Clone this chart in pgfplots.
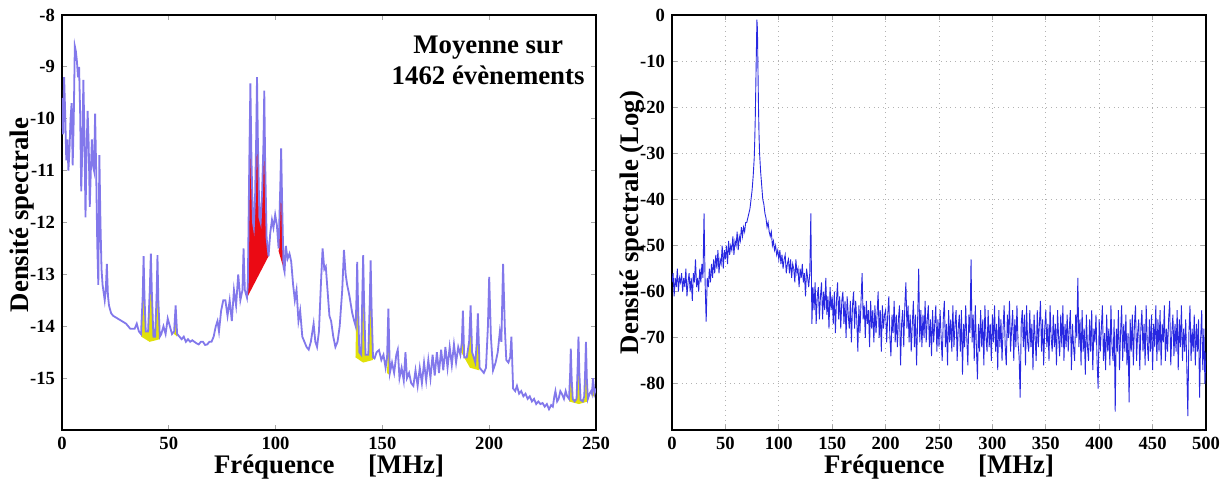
\documentclass[border=0pt]{standalone}
\usepackage{fontspec}
\setmainfont{Liberation Serif}
\usepackage{pgfplots}
\pgfplotsset{compat=1.18}
\definecolor{lav}{RGB}{130,120,235}
\definecolor{specblue}{RGB}{40,40,225}
\definecolor{spikered}{RGB}{235,10,20}
\definecolor{spikeyel}{RGB}{225,225,10}

\pgfplotsset{spec/.style={
    scale only axis, width=267pt, height=207.5pt,
    axis line style={line width=1pt},
    tick align=inside, major tick length=2.5pt,
    tick style={gray!70, line width=0.5pt},
    /pgf/number format/assume math mode=true,
    ticklabel style={font=\fontsize{9.3}{10}\selectfont\bfseries},
    label style={font=\fontsize{13.4}{15}\selectfont\bfseries},
    xlabel={Fréquence\quad\ [MHz]},
    xlabel style={at={(axis description cs:0.5,-0.089)}, anchor=center},
    ylabel style={at={(axis description cs:-0.075,0.5)}, anchor=center},
}}

\begin{document}
\begin{tikzpicture}
\useasboundingbox (-31pt,-26.5pt) rectangle (583pt,215pt);

% moyenne sur les evenements
\begin{axis}[spec,
    xmin=0, xmax=250, ymin=-16, ymax=-8,
    xtick={0,50,...,250}, ytick={-15,...,-8},
    ylabel={Densité spectrale},
    ylabel style={at={(axis description cs:-0.075,0.518)}},
]
% zones jaunes
\addplot[fill=spikeyel, draw=none] coordinates {(37.1,-14.2)(37.8,-13.4)(38.2,-12.9)(38.6,-13.4)(39.2,-14.1)(40.3,-14.1)(41.1,-13.3)(41.6,-12.85)(42.1,-13.4)(42.8,-14.2)(43.6,-14.2)(44.3,-13.4)(44.7,-12.9)(45.1,-13.5)(45.8,-14.25)(41,-14.3)} -- cycle;
\addplot[fill=spikeyel, draw=none] coordinates {(52.5,-14.15)(53.2,-13.75)(53.9,-14.2)} -- cycle;
\addplot[fill=spikeyel, draw=none] coordinates {(137.4,-14.6)(137.9,-13.4)(138.2,-13.0)(138.6,-13.6)(139.2,-14.5)(140.1,-14.55)(140.6,-13.4)(141,-12.9)(141.4,-13.5)(142.1,-14.55)(143.4,-14.55)(144.1,-13.5)(144.5,-13.0)(144.9,-13.6)(145.6,-14.65)(141,-14.7)} -- cycle;
\addplot[fill=spikeyel, draw=none] coordinates {(152.2,-14.9)(152.8,-13.9)(153.5,-14.95)} -- cycle;
\addplot[fill=spikeyel, draw=none] coordinates {(186.9,-14.5)(187.7,-13.9)(188.4,-14.6)(189.6,-14.6)(190.6,-14.3)(191.3,-13.8)(192,-14.5)(193.5,-14.7)(194.2,-14.3)(194.7,-13.95)(195.4,-14.85)(191,-14.8)} -- cycle;
\addplot[fill=spikeyel, draw=none] coordinates {(237.4,-15.45)(237.9,-14.9)(238.2,-14.6)(238.6,-15.0)(239.1,-15.4)(240.9,-15.4)(241.4,-14.8)(241.8,-14.4)(242.2,-14.9)(242.8,-15.42)(244.5,-15.4)(244.9,-14.9)(245.3,-14.5)(245.7,-15.0)(246.2,-15.45)(242,-15.5)} -- cycle;
\addplot[fill=spikeyel, draw=none] coordinates {(248.1,-15.35)(248.6,-15.0)(249.3,-15.35)} -- cycle;
% zones rouges
\addplot[fill=spikered, draw=none] coordinates {(86.6,-13.45)(87.0,-13.2)(87.7,-10.8)(88.2,-9.4)(88.7,-10.8)(89.4,-12.0)(89.8,-12.1)(90.4,-11.5)(90.9,-10.4)(91.3,-9.3)(91.7,-10.4)(92.4,-11.9)(93.0,-12.0)(93.7,-11.4)(94.3,-10.5)(94.7,-9.55)(95.1,-10.8)(95.8,-12.3)(96.7,-12.65)} -- cycle;
\addplot[fill=spikered, draw=none] coordinates {(101.4,-12.55)(101.6,-12.5)(102.2,-11.3)(102.6,-10.65)(103.0,-11.5)(103.7,-12.85)(104.2,-12.95)} -- cycle;
% spectre moyen
\addplot[lav, line width=0.9pt] coordinates {
(0,-9.6)(0.5,-10.3)(1,-9.2)(1.5,-9.9)(2,-10.8)(2.5,-10.4)(3,-11.0)(3.5,-10.6)(4,-10.0)(4.5,-9.7)
(5,-10.9)(5.5,-10.0)(6,-8.6)(6.5,-8.7)(7,-8.9)(7.5,-9.2)(8,-9.0)(8.5,-9.9)(9,-11.4)(9.5,-10.6)
(10,-9.25)(10.5,-10.3)(11,-11.9)(11.5,-10.6)(12,-9.85)(12.5,-10.5)(13,-11.7)(13.5,-11.0)(14,-10.4)(14.5,-10.9)
(15,-11.0)(15.5,-9.9)(16,-11.0)(16.5,-12.4)(17,-13.2)(17.5,-10.7)(18,-12.0)(18.5,-12.9)(19,-13.2)(20,-13.5)
(20.5,-13.3)(21,-12.8)(21.5,-13.4)(22,-13.6)(23,-13.75)(24,-13.8)(26,-13.85)(28,-13.9)(30,-13.95)(32,-14.05)
(34,-14.05)(35,-13.95)(36,-14.1)(37,-14.15)(37.8,-13.4)(38.2,-12.65)(38.6,-13.4)(39.2,-14.1)(40.3,-14.1)(41.1,-13.3)
(41.6,-12.6)(42.1,-13.4)(42.8,-14.2)(43.6,-14.2)(44.3,-13.4)(44.7,-12.63)(45.1,-13.5)(45.8,-14.2)(46.5,-14.15)(47.5,-14.0)
(48.5,-14.15)(49.5,-13.85)(50.5,-14.0)(51.5,-14.15)(52.5,-14.1)(53.2,-13.6)(53.9,-14.15)(55,-14.2)(56,-14.25)(57,-14.2)
(58,-14.3)(59,-14.25)(60,-14.3)(61,-14.27)(62,-14.3)(63,-14.33)(64,-14.35)(65,-14.3)(66,-14.3)(67,-14.36)
(68,-14.35)(69,-14.3)(70,-14.3)(71,-14.2)(72,-14.0)(72.8,-13.9)(73.5,-14.1)(74.5,-13.7)(75.5,-13.5)(76.5,-13.5)
(77.5,-13.8)(78.5,-13.5)(79.5,-13.9)(80.5,-13.3)(81.5,-13.6)(82.5,-13.0)(83.5,-13.5)(84.5,-13.3)(85,-12.5)(85.6,-13.3)
(86.6,-13.45)(87.0,-13.2)(87.7,-10.8)(88.2,-9.32)(88.7,-10.8)(89.4,-12.0)(89.8,-12.1)(90.4,-11.5)(90.9,-10.4)(91.3,-9.2)
(91.7,-10.4)(92.4,-11.9)(93.0,-12.0)(93.7,-11.4)(94.3,-10.5)(94.7,-9.46)(95.1,-10.8)(95.8,-12.3)(96.7,-12.65)(97.5,-12.2)
(98.3,-11.95)(99,-12.1)(99.8,-11.85)(100.6,-12.05)(101.4,-12.5)(102.2,-11.3)(102.6,-10.57)(103.0,-11.5)(103.7,-12.85)(104.2,-12.95)
(104.8,-12.45)(105.6,-12.7)(106.5,-12.6)(107.3,-12.75)(108.2,-13.2)(109,-13.5)(109.8,-13.3)(110.7,-13.9)(111.5,-13.7)(112.5,-14.2)
(113.5,-14.3)(114.5,-14.4)(115.5,-14.45)(116.5,-14.3)(117.8,-13.95)(118.6,-14.3)(119.4,-14.4)(120.3,-14.1)(121.2,-13.2)(122,-12.5)
(122.8,-12.9)(123.5,-12.85)(124.3,-13.3)(125.2,-13.8)(126,-13.9)(127,-14.2)(128,-14.4)(129,-14.3)(130,-14.0)(131.2,-13.3)
(132,-12.53)(132.8,-13.0)(133.5,-13.2)(134.5,-13.4)(135.9,-13.75)(136.8,-13.9)(137.5,-14.0)(137.9,-13.4)(138.2,-12.76)(138.6,-13.6)
(139.2,-14.5)(140.1,-14.55)(140.6,-13.4)(141,-12.63)(141.4,-13.5)(142.1,-14.55)(143.4,-14.55)(144.1,-13.5)(144.5,-12.73)(144.9,-13.6)
(145.6,-14.6)(146.3,-14.62)(147.3,-14.5)(148.4,-14.46)(149.5,-14.65)(150.5,-14.55)(151.5,-14.8)(152.2,-14.6)(152.8,-13.66)(153.5,-14.9)
(154.5,-14.7)(155.5,-14.9)(156.5,-14.55)(157.2,-14.45)(158,-15.0)(159,-14.8)(160,-15.05)(160.8,-14.5)(161.5,-15.0)(162.5,-14.9)
(163.5,-15.1)(164.5,-15.15)(165.5,-14.85)(166.5,-15.15)(167.5,-14.8)(168.5,-15.1)(169.5,-14.7)(170.5,-15.05)(171.5,-14.65)(172.5,-15.0)
(173.5,-14.55)(174.5,-14.95)(175.5,-14.5)(176.5,-14.9)(177.5,-14.45)(178.5,-14.85)(179.5,-14.4)(180.5,-14.8)(181.5,-14.4)(182.5,-14.75)
(183.5,-14.35)(184.5,-14.7)(185.5,-14.4)(186.5,-14.55)(187.2,-14.3)(187.7,-13.7)(188.3,-14.6)(189.5,-14.6)(190.6,-14.3)(191.3,-13.6)
(192,-14.5)(193.5,-14.7)(194.2,-14.3)(194.7,-13.75)(195.5,-14.8)(196.5,-14.85)(197.5,-14.9)(198.5,-14.8)(199.4,-14.0)(200,-13.05)
(200.8,-14.2)(201.8,-14.85)(203,-14.7)(204,-14.5)(205,-14.1)(205.7,-14.3)(206.5,-12.8)(207.3,-14.0)(208,-14.65)(209,-14.7)
(209.8,-14.6)(210.4,-14.2)(211.2,-15.2)(212.2,-15.25)(213,-15.15)(214,-15.3)(215,-15.25)(216,-15.35)(217,-15.3)(218,-15.4)
(219,-15.35)(220,-15.45)(221,-15.4)(222,-15.5)(223,-15.45)(224,-15.5)(225,-15.48)(226,-15.55)(227,-15.5)(228,-15.6)
(229,-15.52)(229.8,-15.55)(230.5,-15.35)(231,-15.25)(231.8,-15.45)(232.5,-15.4)(233.3,-15.25)(234,-15.3)(235,-15.4)(235.8,-15.25)
(236.5,-15.35)(237.4,-15.4)(237.9,-14.9)(238.2,-14.43)(238.6,-15.0)(239.1,-15.4)(240,-15.45)(240.9,-15.4)(241.4,-14.8)(241.8,-14.2)
(242.2,-14.9)(242.8,-15.42)(243.8,-15.45)(244.5,-15.35)(244.9,-14.9)(245.3,-14.3)(245.7,-15.0)(246.2,-15.4)(247,-15.3)(247.7,-15.25)
(248.1,-15.3)(248.6,-15.0)(249.3,-15.3)(250,-15.2)
};
\node[align=center, font=\fontsize{13.4}{15.5}\selectfont\bfseries] at (axis cs:199.5,-8.87) {Moyenne sur\\1462 évènements};
\end{axis}

% spectre en echelle log
\begin{axis}[spec, at={(305pt,0pt)},
    xmin=0, xmax=500, ymin=-90, ymax=0,
    xtick={0,50,...,500}, ytick={-80,-70,...,0},
    grid=major, major grid style={gray!60, dotted, line width=0.5pt},
    ylabel={Densité spectrale (Log)},
]
\addplot[specblue, line width=0.45pt] coordinates {
(0,-58)(1,-56)(2,-61)(3,-57)(4,-59)(5,-55)(6,-60)(7,-57)(8,-58)(9,-56)
(10,-60)(11,-57)(12,-59)(13,-55)(14,-61)(15,-58)(16,-56)(17,-60)(18,-57)(19,-62)
(20,-56)(21,-58)(22,-53)(23,-59)(24,-57)(25,-60)(26,-55)(27,-58)(28,-54)(29,-57)
(30,-43)(31,-58)(32,-66.5)(33,-57)(34,-59)(35,-55)(36,-58)(37,-54)(38,-57)(39,-53)
(40,-56)(41,-52)(42,-55)(43,-51)(44,-56)(45,-53)(46,-54)(47,-50)(48,-55)(49,-51)
(50,-53)(51,-50)(52,-54)(53,-49)(54,-52)(55,-50)(56,-51)(57,-48)(58,-52)(59,-49)
(60,-50)(61,-47)(62,-51)(63,-48)(64,-49)(65,-46)(66,-48)(67,-46)(68,-47)(69,-45)
(70,-45)(71,-44)(72,-43)(73,-42)(74,-40)(75,-38)(76,-35)(77,-31)(77.5,-27)(78,-22)
(78.5,-15)(79,-8)(79.5,-1)(80,-3)(80.5,-12)(81,-20)(81.5,-26)(82,-30)(83,-34)(84,-37)
(85,-40)(86,-41)(87,-43)(88,-44)(89,-46)(90,-45)(91,-47)(92,-48)(93,-47)(94,-50)
(95,-49)(96,-51)(97,-50)(98,-52)(99,-51)(100,-53)(101,-51)(102,-54)(103,-52)(104,-55)
(105,-53)(106,-52)(107,-56)(108,-54)(109,-53)(110,-56)(111,-53)(112,-57)(113,-54)(114,-55)
(115,-58)(116,-53)(117,-56)(118,-55)(119,-59)(120,-55)(121,-57)(122,-54)(123,-58)(124,-56)
(125,-61)(126,-55)(127,-57)(128,-59)(129,-56)(130,-43)(131,-67)(132,-59)(133,-64)(134,-58)
(135,-67)(136,-61)(137,-59)(138,-66)(139,-61)(140,-58)(141,-66)(142,-60)(143,-64)(144,-57)
(145,-65)(146,-61)(147,-68)(148,-59)(149,-64)(150,-61)(151,-67)(152,-60)(153,-69)(154,-62)
(155,-58)(156,-66)(157,-61)(158,-68)(159,-62)(160,-60)(161,-67)(162,-62)(163,-70)(164,-61)
(165,-65)(166,-68)(167,-62)(168,-71)(169,-63)(170,-60)(171,-68)(172,-62)(173,-66)(174,-73)
(175,-63)(176,-69)(177,-62)(178,-56)(179,-66)(180,-63)(181,-70)(182,-62)(183,-67)(184,-64)
(185,-72)(186,-62)(187,-68)(188,-64)(189,-71)(190,-63)(191,-69)(192,-65)(193,-60)(194,-70)
(195,-64)(196,-73)(197,-63)(198,-68)(199,-65)(200,-64)(201,-71)(202,-65)(203,-61)(204,-70)
(205,-74)(206,-65)(207,-69)(208,-62)(209,-71)(210,-65)(211,-72)(212,-66)(213,-63)(214,-76)
(215,-67)(216,-64)(217,-72)(218,-63)(219,-58)(220,-68)(221,-63)(222,-71)(223,-65)(224,-73)
(225,-67)(226,-62)(227,-72)(228,-65)(229,-76)(230,-66)(231,-55)(232,-71)(233,-64)(234,-72)
(235,-65)(236,-70)(237,-62)(238,-71)(239,-66)(240,-63)(241,-72)(242,-66)(243,-74)(244,-64)
(245,-71)(246,-67)(247,-63)(248,-73)(249,-66)(250,-72)(251,-64)(252,-70)(253,-75)(254,-66)
(255,-62)(256,-72)(257,-67)(258,-76)(259,-64)(260,-71)(261,-66)(262,-73)(263,-63)(264,-72)
(265,-67)(266,-64)(267,-75)(268,-68)(269,-65)(270,-73)(271,-64)(272,-78)(273,-67)(274,-72)
(275,-63)(276,-70)(277,-76)(278,-65)(279,-69)(280,-53)(281,-71)(282,-65)(283,-75)(284,-63)
(285,-72)(286,-79)(287,-67)(288,-73)(289,-64)(290,-72)(291,-66)(292,-76)(293,-63)(294,-70)
(295,-73)(296,-64)(297,-72)(298,-67)(299,-75)(300,-65)(301,-71)(302,-63)(303,-73)(304,-67)
(305,-77)(306,-64)(307,-72)(308,-66)(309,-75)(310,-68)(311,-63)(312,-72)(313,-76)(314,-65)
(315,-70)(316,-62)(317,-73)(318,-68)(319,-64)(320,-75)(321,-66)(322,-72)(323,-63)(324,-71)
(325,-74)(326,-83)(327,-67)(328,-64)(329,-72)(330,-65)(331,-76)(332,-63)(333,-71)(334,-73)
(335,-64)(336,-72)(337,-67)(338,-77)(339,-65)(340,-70)(341,-75)(342,-64)(343,-72)(344,-67)
(345,-62)(346,-73)(347,-66)(348,-76)(349,-68)(350,-64)(351,-72)(352,-67)(353,-75)(354,-63)
(355,-70)(356,-73)(357,-65)(358,-72)(359,-67)(360,-76)(361,-64)(362,-70)(363,-74)(364,-65)
(365,-72)(366,-63)(367,-75)(368,-67)(369,-72)(370,-65)(371,-73)(372,-68)(373,-64)(374,-77)
(375,-67)(376,-72)(377,-75)(378,-65)(379,-70)(380,-57)(381,-72)(382,-66)(383,-76)(384,-64)
(385,-73)(386,-68)(387,-78)(388,-65)(389,-72)(390,-75)(391,-66)(392,-73)(393,-64)(394,-77)
(395,-68)(396,-71)(397,-65)(398,-75)(399,-81)(400,-66)(401,-73)(402,-68)(403,-63)(404,-75)
(405,-69)(406,-77)(407,-65)(408,-73)(409,-68)(410,-76)(411,-63)(412,-72)(413,-75)(414,-66)
(415,-86)(416,-68)(417,-73)(418,-64)(419,-77)(420,-69)(421,-63)(422,-75)(423,-67)(424,-73)
(425,-65)(426,-76)(427,-69)(428,-84)(429,-66)(430,-73)(431,-65)(432,-76)(433,-67)(434,-63)
(435,-75)(436,-69)(437,-66)(438,-77)(439,-68)(440,-64)(441,-73)(442,-67)(443,-76)(444,-63)
(445,-71)(446,-75)(447,-66)(448,-73)(449,-65)(450,-77)(451,-67)(452,-72)(453,-63)(454,-75)
(455,-66)(456,-73)(457,-64)(458,-76)(459,-67)(460,-71)(461,-63)(462,-75)(463,-68)(464,-73)
(465,-66)(466,-62)(467,-76)(468,-69)(469,-65)(470,-74)(471,-67)(472,-73)(473,-64)(474,-77)
(475,-66)(476,-72)(477,-63)(478,-75)(479,-68)(480,-73)(481,-66)(482,-76)(483,-87)(484,-69)
(485,-63)(486,-75)(487,-68)(488,-73)(489,-65)(490,-76)(491,-67)(492,-73)(493,-66)(494,-83)
(495,-70)(496,-64)(497,-77)(498,-68)(499,-80)(500,-73)
};
\end{axis}
\end{tikzpicture}
\end{document}
